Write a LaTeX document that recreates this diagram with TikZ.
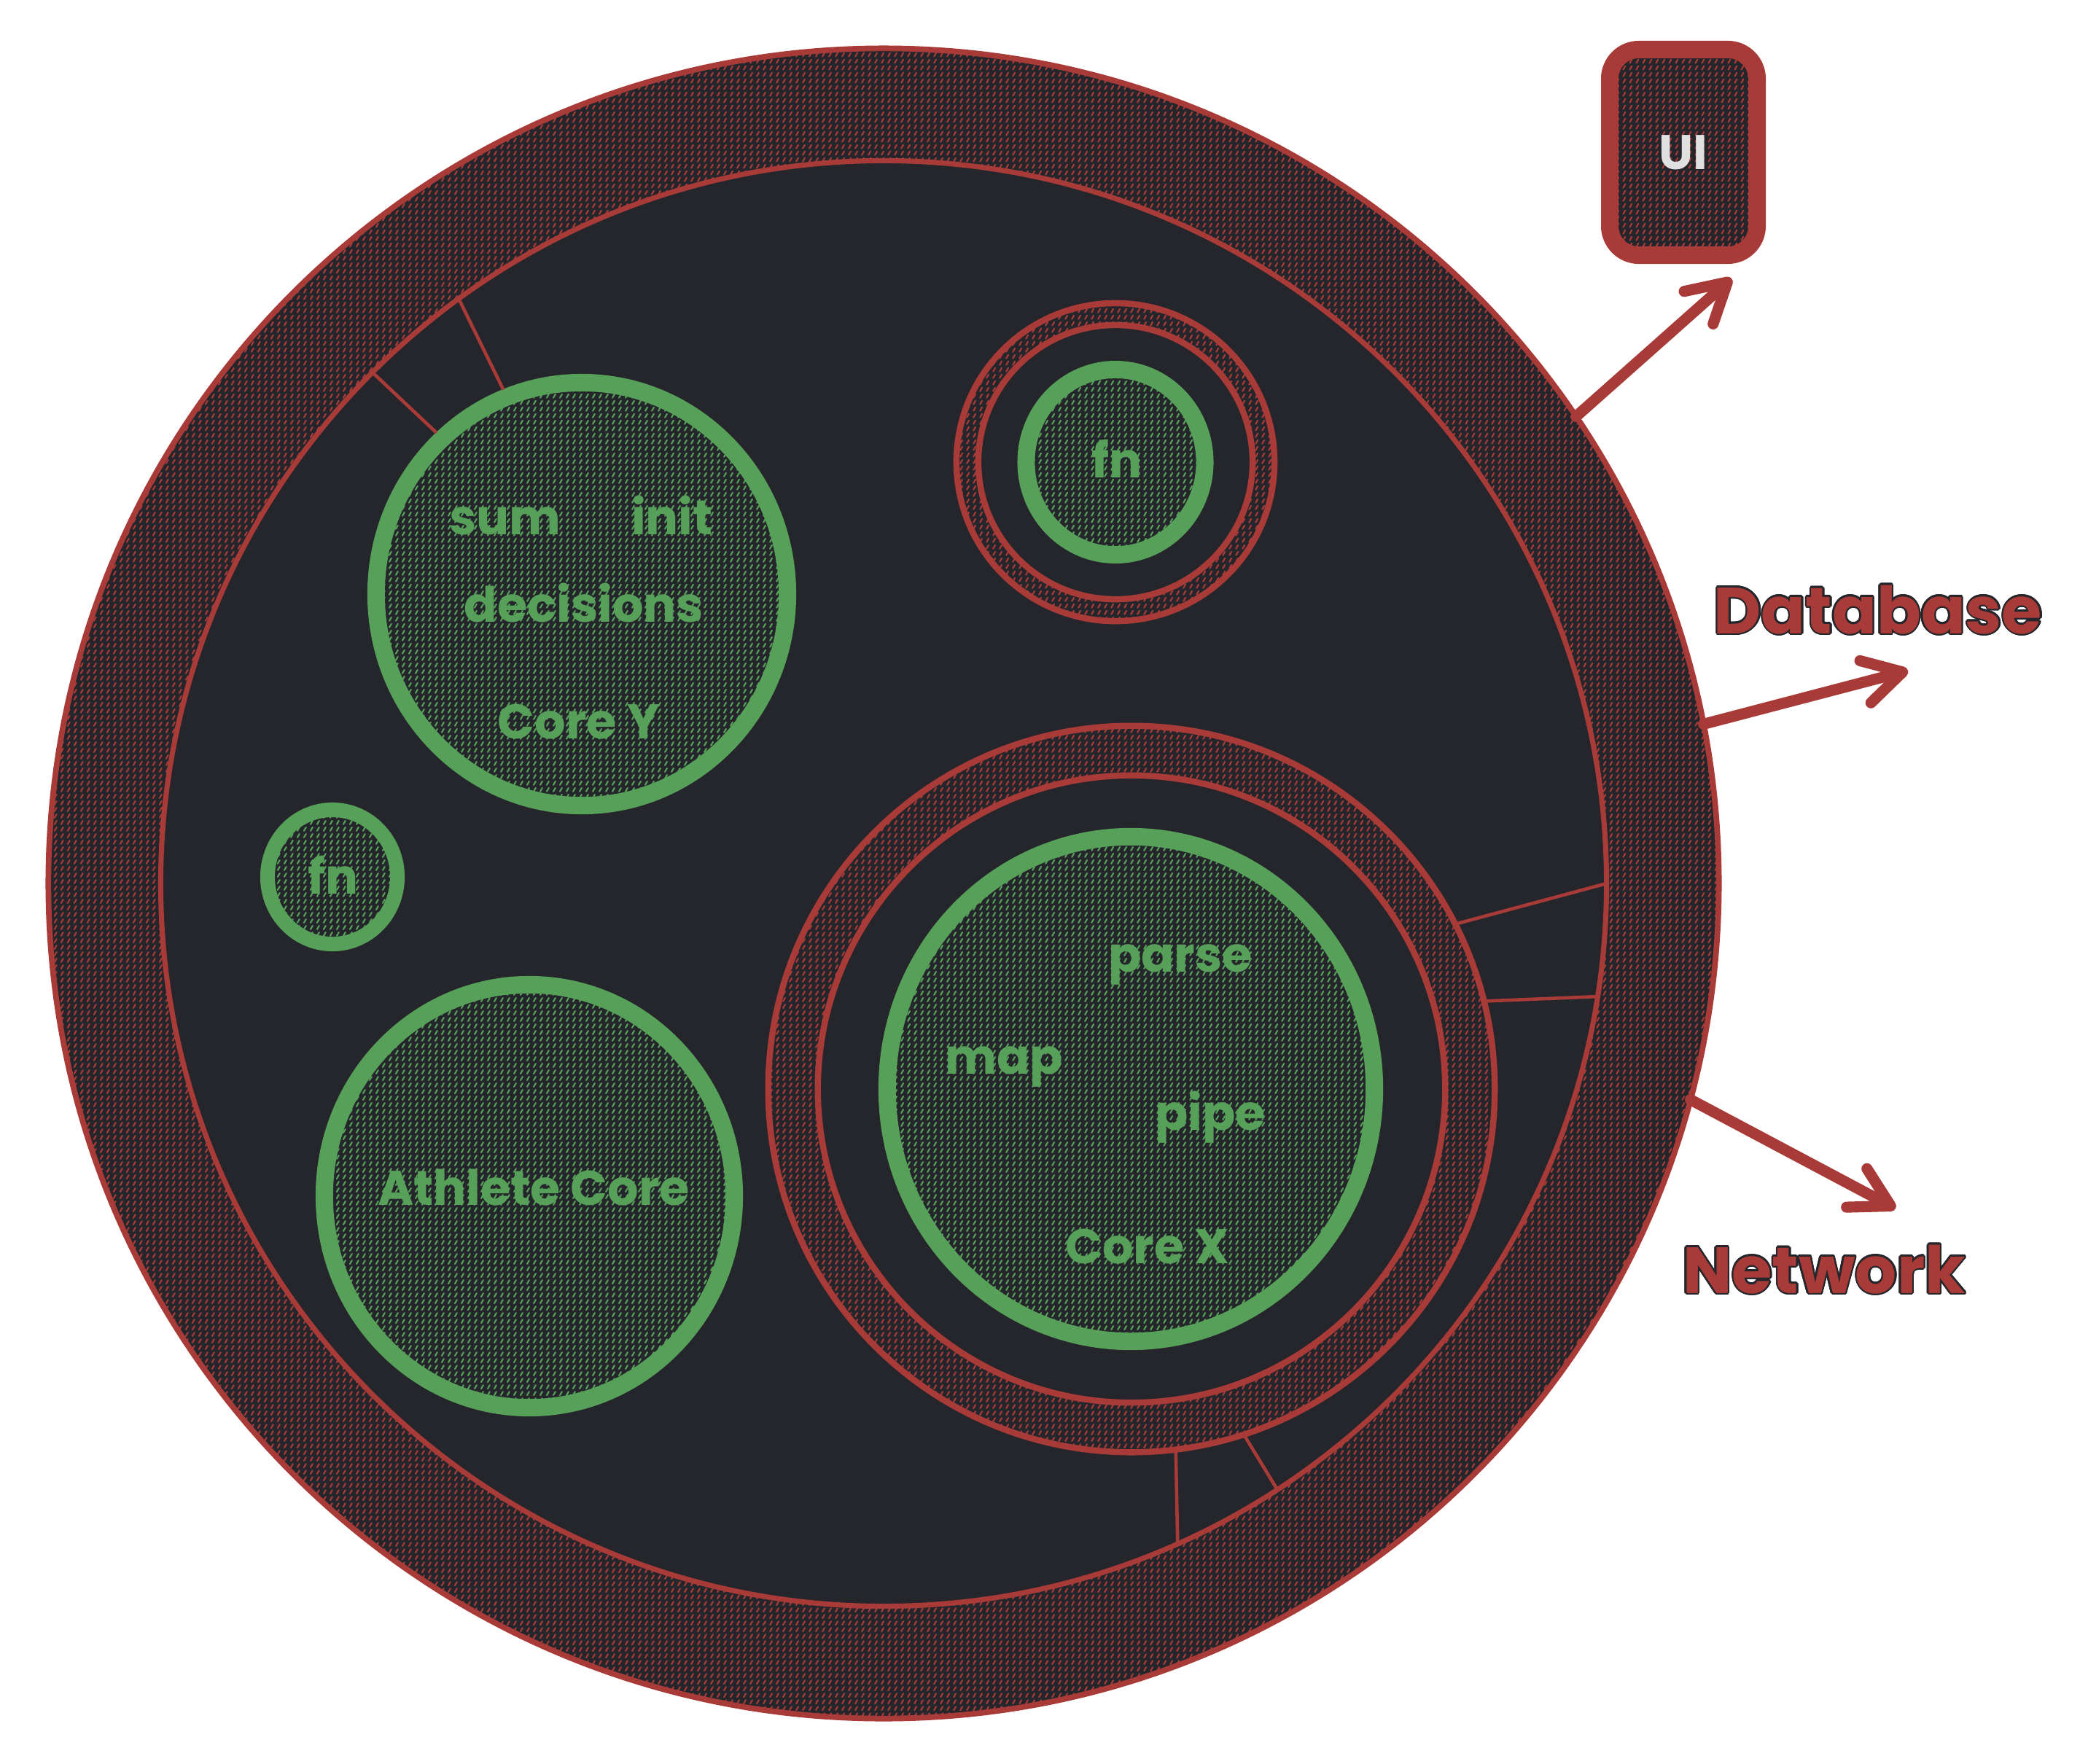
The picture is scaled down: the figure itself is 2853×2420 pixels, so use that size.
\documentclass[tikz,border=0pt]{standalone}
\usepackage{fontspec}
\setmainfont{Poppins}
\usepackage{contour}
\contourlength{0.7pt}
\usetikzlibrary{shapes.geometric,patterns,arrows.meta}
\definecolor{darkc}{HTML}{25262B}
\definecolor{redc}{HTML}{A83B38}
\definecolor{greenc}{HTML}{57A05A}
\definecolor{uitext}{HTML}{E0E0E0}
\pgfdeclarepatternformonly{dashhatch}{\pgfpoint{-0.5pt}{-0.5pt}}{\pgfpoint{3.06pt}{3.06pt}}{\pgfpoint{2.56pt}{2.56pt}}{%
  \pgfsetlinewidth{0.6pt}\pgfsetroundcap
  \pgfpathmoveto{\pgfpoint{0.8pt}{0.5pt}}\pgfpathlineto{\pgfpoint{1.6pt}{1.9pt}}\pgfusepath{stroke}}
\tikzset{
  redhatch/.style={preaction={fill=darkc}, pattern=dashhatch, pattern color=redc},
  greenhatch/.style={preaction={fill=darkc}, pattern=dashhatch, pattern color=greenc},
  ring/.style={circle, inner sep=0pt, outer sep=0pt, draw=redc, line width=2.4pt},
  core/.style={ellipse, inner sep=0pt, outer sep=3.2pt, draw=greenc, line width=6.8pt, greenhatch},
  lbl/.style={text=greenc, font=\fontsize{19}{22}\selectfont\bfseries, anchor=base, inner sep=0pt},
  bigl/.style={text=redc, font=\fontsize{25.5}{30}\selectfont\bfseries, anchor=base, inner sep=0pt},
  thinline/.style={draw=redc, line width=1.3pt},
  arr/.style={draw=redc, line width=4.3pt, line cap=round, -{Straight Barb[length=15pt,width=17pt,round]}},
}
\begin{document}
\begin{tikzpicture}[x=0.01cm, y=-0.01cm]
\useasboundingbox (0,0) rectangle (2853,2420);
\fill[white] (0,0) rectangle (2853,2420);

% big body
\node[ring, redhatch, line width=2.2pt, minimum size=22.9cm] (outer) at (1212,1212) {};
\node[ring, fill=darkc, line width=2pt, minimum size=19.82cm] (inner) at (1212,1212) {};

% Core Y
\node[core, minimum width=5.64cm, minimum height=5.8cm] (coreY) at (798,815) {};
% left fn
\node[core, line width=5.7pt, minimum width=1.78cm, minimum height=1.84cm] (fnL) at (456,1203) {};
% Athlete core
\node[core, minimum width=5.62cm, minimum height=5.8cm] (athlete) at (726,1641) {};

% top fn group
\node[ring, redhatch, minimum size=4.36cm] (ringF) at (1530,634) {};
\node[ring, fill=darkc, minimum size=3.76cm] (ringFin) at (1530,634) {};
\node[core, minimum width=2.45cm, minimum height=2.54cm] (fnT) at (1530,634) {};

% Core X group
\node[ring, redhatch, minimum size=9.96cm] (ringX) at (1552,1494) {};
\node[ring, fill=darkc, minimum size=8.6cm] (ringXin) at (1552,1494) {};
\node[core, minimum width=6.68cm, minimum height=6.92cm] (coreX) at (1551,1494) {};

% thin connectors
\draw[thinline] (inner.126.1) -- (coreY.111.5);
\draw[thinline] (inner.135.6) -- (coreY.132.5);
\draw[thinline] (ringX.27) -- (inner.-0.1);
\draw[thinline] (ringX.14) -- (inner.-9.9);
\draw[thinline] (ringX.-83.1) -- (inner.-66);
\draw[thinline] (ringX.-72.3) -- (inner.-57.9);

% labels
\node[lbl] (tSum) at (693,733) {sum};
\node[lbl] (tInit) at (922,733) {init};
\node[lbl] (tDec) at (801,853) {decisions};
\node[lbl] (tCoreY) at (794,1013) {Core Y};
\node[lbl] (tFnL) at (457,1226) {fn};
\node[lbl] (tAth) at (732,1653) {Athlete Core};
\node[lbl] (tFnT) at (1532,655) {fn};
\node[lbl] (tParse) at (1619,1333) {parse};
\node[lbl] (tMap) at (1377,1473) {map};
\node[lbl] (tPipe) at (1660,1550) {pipe};
\node[lbl] (tCoreX) at (1574,1733) {Core X};

% UI box
\node[draw=redc, line width=6.8pt, redhatch, rounded corners=0.4cm, minimum width=2.02cm, minimum height=2.82cm, inner sep=0pt, text=uitext, font=\fontsize{19}{22}\selectfont\bfseries] (ui) at (2309,209) {UI};

% arrows
\coordinate (uiTip) at (2375,382);
\coordinate (dbTip) at (2617,920);
\coordinate (netTip) at (2600,1658);
\draw[arr] (outer.34.3) -- (uiTip);
\draw[arr] (outer.11.6) -- (dbTip);
\draw[arr] (outer.-15.7) -- (netTip);

\node[bigl] (tDb) at (2576,869) {\contour{darkc}{Database}};
\node[bigl] (tNet) at (2502,1774) {\contour{darkc}{Network}};
\end{tikzpicture}
\end{document}
